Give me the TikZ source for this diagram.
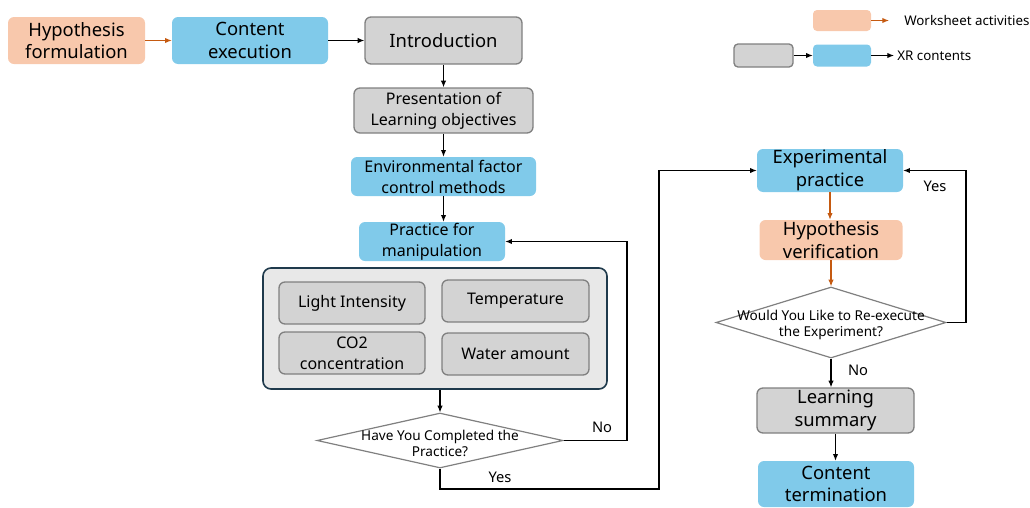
\documentclass[tikz,border=0pt]{standalone}
\usepackage{fontspec}
\setmainfont{Noto Sans}
\usetikzlibrary{arrows.meta,shapes.geometric,positioning,calc}
\definecolor{salmon}{HTML}{F8C8AC}
\definecolor{xrblue}{HTML}{80CAEA}
\definecolor{boxgray}{HTML}{D3D3D3}
\definecolor{bordgray}{HTML}{808080}
\definecolor{contfill}{HTML}{E8E8E8}
\definecolor{contbord}{HTML}{1F3A4C}
\definecolor{orarrow}{HTML}{C55A11}
\def\u{0.75pt}
\tikzset{
  base/.style={rounded corners=4.5pt, inner sep=0pt, align=center, font=\fontsize{13.8}{17}\selectfont},
  ws/.style={base, fill=salmon},
  xr/.style={base, fill=xrblue},
  gr/.style={base, fill=boxgray, draw=bordgray, line width=1pt},
  mid/.style={font=\fontsize{12}{15.8}\selectfont},
  sz/.style 2 args={minimum width=#1*\u, minimum height=#2*\u},
  dia/.style={diamond, draw=bordgray, line width=0.9pt, fill=white, inner sep=0pt},
  dtext/.style={align=center, font=\fontsize{10.2}{12}\selectfont, inner sep=0pt},
  arr/.style={-{Latex[length=5pt,width=4pt]}, line width=0.8pt, black},
  oarr/.style={-{Latex[length=5pt,width=4pt]}, line width=0.8pt, orarrow},
  lbl/.style={font=\fontsize{11}{12}\selectfont, inner sep=0pt},
  leg/.style={font=\fontsize{10}{11}\selectfont, inner sep=0pt, anchor=west},
}
\begin{document}
\begin{tikzpicture}[x=\u, y=-\u]
\useasboundingbox (0,0) rectangle (1030,507);
% top row
\node[ws, sz={137}{47}] (hf) at (76.5,40.5) {Hypothesis\\formulation};
\node[xr, sz={156}{47}] (ce) at (250,40.5) {Content\\execution};
\node[gr, sz={157}{47}] (intro) at (443.5,40.5) {Introduction};
\node[gr, mid, sz={179}{45}] (pres) at (443.5,110.5) {Presentation of\\Learning objectives};
\node[xr, mid, sz={185}{39}] (env) at (443.5,176.5) {Environmental factor\\control methods};
\node[xr, mid, sz={146}{39}] (prac) at (432,241.5) {Practice for\\manipulation};
% container
\node[base, fill=contfill, draw=contbord, line width=1.2pt, rounded corners=6pt, sz={344}{121}] (cont) at (435,328.5) {};
\node[gr, mid, sz={146}{42}] (li) at (352,303) {Light Intensity};
\node[gr, mid, sz={147}{42}] (temp) at (515.5,301) {Temperature};
\node[gr, mid, sz={146}{42}] (co2) at (352,353) {CO2\\concentration};
\node[gr, mid, sz={147}{42}] (water) at (515.5,354) {Water amount};
% decision 1
\node[dia, minimum width=246*\u, minimum height=55*\u] (d1) at (440,440.5) {};
\node[dtext] (d1t) at (440,443) {Have You Completed the\\Practice?};
% right column
\node[xr, sz={146}{43}] (exp) at (830,170.5) {Experimental\\practice};
\node[ws, sz={143}{40}] (hv) at (831,240) {Hypothesis\\verification};
\node[dia, minimum width=230*\u, minimum height=71*\u] (d2) at (831,322.5) {};
\node[dtext] (d2t) at (831,325) {Would You Like to Re-execute\\the Experiment?};
\node[gr, sz={157}{45}] (ls) at (835.5,410.5) {Learning\\summary};
\node[xr, sz={156}{46}] (ct) at (836,484) {Content\\termination};
% connectors
\draw[oarr] (hf.east) -- (ce.west);
\draw[arr] (ce.east) -- (intro.west);
\draw[arr] (intro.south) -- (pres.north);
\draw[arr] (pres.south) -- (env.north);
\draw[arr] (env.south) -- (env.south |- prac.north);
\draw[arr] (d1.north |- cont.south) -- (d1.north);
\coordinate (noc) at (627,440.5);
\draw[arr] (d1.east) -- (noc) |- (prac.east);
\node[lbl] (no1) at (602,427) {No};
\coordinate (yes1a) at (440,489);
\coordinate (yes1b) at (659,489);
\draw[arr] (d1.south) -- (yes1a) -- (yes1b) |- (exp.west);
\node[lbl] (yes1) at (500,477) {Yes};
\draw[oarr] (exp.south) -- (exp.south |- hv.north);
\draw[oarr] (hv.south) -- (d2.north);
\coordinate (yesc) at (966,322.5);
\draw[arr] (d2.east) -- (yesc) |- (exp.east);
\node[lbl] (yes2) at (935,186) {Yes};
\draw[arr] (d2.south) -- (d2.south |- ls.north);
\node[lbl] (no2) at (858,370) {No};
\draw[arr] (ls.south) -- (ls.south |- ct.north);
% legend
\node[ws, sz={58}{21}, rounded corners=3pt] (lw) at (842,20.5) {};
\coordinate (lwend) at (889,20.5);
\draw[oarr] (lw.east) -- (lwend);
\node[leg] (lwt) at (904,20.5) {Worksheet activities};
\node[gr, sz={59}{23}, rounded corners=3pt] (lg) at (763.5,55.5) {};
\node[xr, sz={58}{22}, rounded corners=3pt] (lb) at (842,55.5) {};
\draw[arr] (lg.east) -- (lb.west);
\coordinate (lbend) at (894,55.5);
\draw[arr] (lb.east) -- (lbend);
\node[leg] (lbt) at (897,56) {XR contents};
\end{tikzpicture}
\end{document}
